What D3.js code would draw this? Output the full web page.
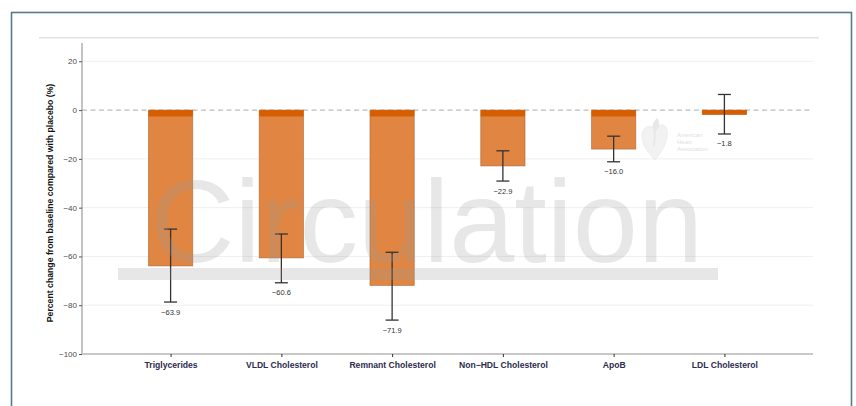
<!DOCTYPE html>
<html>
<head>
<meta charset="utf-8">
<script src="https://cdn.jsdelivr.net/npm/d3@7"></script>
<style>
  html, body { margin: 0; padding: 0; background: #fff; }
  svg { display: block; font-family: "Liberation Sans", Arial, Helvetica, sans-serif; }
</style>
</head>
<body>
<svg id="chart" width="856" height="406"></svg>
<script>
// Lipid endpoints: placebo-adjusted percent change from baseline
const categories = ["Triglycerides", "VLDL Cholesterol", "Remnant Cholesterol", "Non\u2212HDL Cholesterol", "ApoB", "LDL Cholesterol"];
const values = [-63.9, -60.6, -71.9, -22.9, -16.0, -1.8];
const ciLower = [-78.7, -70.8, -86.1, -29.1, -21.2, -9.8];
const ciUpper = [-48.8, -50.8, -58.3, -16.7, -10.7, 6.4];
const yTicks = [20, 0, -20, -40, -60, -80, -100];
const yDomain = [-100, 27.5];

const svg = d3.select("#chart");
const W = 856, H = 406;
const plot = { left: 82, right: 813, top: 43, bottom: 354 };

const x = d3.scalePoint().domain(categories).range([plot.left, plot.right]).padding(0.8);
const y = d3.scaleLinear().domain(yDomain).range([plot.bottom, plot.top]);
const barW = x.step() * 0.4;
const fmt = v => (v < 0 ? "\u2212" : "") + Math.abs(v).toFixed(1);

// Panel frame
svg.append("rect")
  .attr("x", 11.5).attr("y", 12.5).attr("width", 840).attr("height", 410)
  .attr("fill", "none").attr("stroke", "#56798f").attr("stroke-width", 1.6);

// Rule under the panel header
svg.append("line")
  .attr("x1", 39).attr("x2", 819).attr("y1", 37.7).attr("y2", 37.7)
  .attr("stroke", "#e2e2e2").attr("stroke-width", 1.5);

// Horizontal gridlines
svg.append("g").selectAll("line")
  .data(yTicks.filter(t => t !== 0 && t !== -100))
  .join("line")
  .attr("x1", plot.left).attr("x2", plot.right)
  .attr("y1", d => y(d)).attr("y2", d => y(d))
  .attr("stroke", "#efefef").attr("stroke-width", 1);

// Reference line at zero
svg.append("line")
  .attr("x1", plot.left).attr("x2", plot.right)
  .attr("y1", y(0)).attr("y2", y(0))
  .attr("stroke", "#ababab").attr("stroke-width", 1)
  .attr("stroke-dasharray", "5,3.5");

// Bars
const bars = svg.append("g");
categories.forEach((c, i) => {
  const v = values[i];
  const x0 = x(c) - barW / 2;
  bars.append("rect")
    .attr("x", x0).attr("y", y(0))
    .attr("width", barW).attr("height", y(v) - y(0))
    .attr("fill", "#e08642")
    .attr("stroke", "#9a5a30").attr("stroke-opacity", 0.55).attr("stroke-width", 0.9);
  // darker band along the top edge of each bar
  const stripEnd = Math.max(v, -2.6);
  bars.append("rect")
    .attr("x", x0).attr("y", y(0))
    .attr("width", barW).attr("height", y(stripEnd) - y(0))
    .attr("fill", "#d45e00");
});

// Error bars
const err = svg.append("g").attr("stroke", "#333").attr("stroke-width", 1.3);
categories.forEach((c, i) => {
  const cx = x(c);
  err.append("line").attr("x1", cx).attr("x2", cx).attr("y1", y(ciUpper[i])).attr("y2", y(ciLower[i]));
  [ciUpper[i], ciLower[i]].forEach(v => {
    err.append("line").attr("x1", cx - 6.5).attr("x2", cx + 6.5).attr("y1", y(v)).attr("y2", y(v));
  });
});

// Value labels under the lower whisker
svg.append("g").selectAll("text")
  .data(categories)
  .join("text")
  .attr("x", d => x(d))
  .attr("y", (d, i) => y(ciLower[i]) + 12.5)
  .attr("text-anchor", "middle")
  .attr("font-size", 7.5)
  .attr("fill", "#333")
  .text((d, i) => fmt(values[i]));

// Faint society logo
const logo = svg.append("g").attr("opacity", 0.9);
logo.append("path")
  .attr("d", "M655,160 C646,150 642,144 642,136 C642,129 647,125 652,127 C654,128 655,130 655,132 C656,128 659,124 663,125 C668,127 668,134 666,141 C664,148 660,154 655,160 Z")
  .attr("fill", "#f1f1f1").attr("stroke", "#ececec").attr("stroke-width", 1);
logo.append("path")
  .attr("d", "M657,118 C661,123 659,128 656,131 L655,146 L653,146 L654,131 C651,127 653,122 657,118 Z")
  .attr("fill", "#e6e6e6");
["American", "Heart", "Association"].forEach((t, k) => {
  logo.append("text")
    .attr("x", 677).attr("y", 137 + k * 7.2)
    .attr("font-size", 6).attr("fill", "#dcdcdc")
    .text(t);
});

// Journal watermark
const wm = svg.append("g").attr("fill", "#9a9a9a").attr("fill-opacity", 0.24);
wm.append("text")
  .attr("x", 150).attr("y", 262)
  .attr("font-size", 117)
  .attr("textLength", 553).attr("lengthAdjust", "spacingAndGlyphs")
  .text("Circulation");
wm.append("rect").attr("x", 118).attr("y", 268).attr("width", 600).attr("height", 12);

// Y axis
const yAxis = svg.append("g").attr("transform", `translate(${plot.left},0)`)
  .call(d3.axisLeft(y).tickValues(yTicks).tickSize(3).tickPadding(2)
    .tickFormat(d => (d < 0 ? "\u2212" : "") + Math.abs(d)));
yAxis.select(".domain").attr("stroke", "#9a9a9a").attr("stroke-width", 1.2)
  .attr("d", `M0,${plot.top}V${plot.bottom}`);
yAxis.selectAll(".tick line").attr("stroke", "#555");
yAxis.selectAll(".tick text").attr("font-size", 8).attr("fill", "#4a4a4a")
  .attr("font-family", "Liberation Sans, Arial, sans-serif");

// X axis
const xAxis = svg.append("g").attr("transform", `translate(0,${plot.bottom})`)
  .call(d3.axisBottom(x).tickSize(3).tickPadding(5));
xAxis.select(".domain").attr("stroke", "#c8c8c8").attr("stroke-width", 1.8)
  .attr("d", `M${plot.left},0H${plot.right}`);
xAxis.selectAll(".tick line").attr("stroke", "#333");
xAxis.selectAll(".tick text").attr("font-size", 8.6).attr("font-weight", "bold")
  .attr("fill", "#2c2c4e").attr("font-family", "Liberation Sans, Arial, sans-serif");

// Y axis title
svg.append("text")
  .attr("transform", "translate(53,203) rotate(-90)")
  .attr("text-anchor", "middle")
  .attr("font-size", 8.7).attr("font-weight", "bold").attr("fill", "#111")
  .text("Percent change from baseline compared with placebo (%)");
</script>
</body>
</html>
